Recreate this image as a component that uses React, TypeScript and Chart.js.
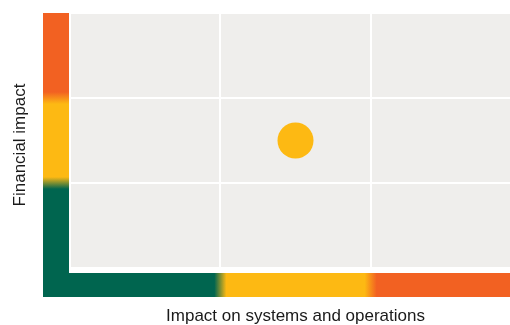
import React, { useEffect, useRef } from "react";
import { Chart, registerables } from "chart.js";

Chart.register(...registerables);

// Zone boundaries on both axes (low / medium / high)
const zoneEdges = [0, 1, 2, 3];
// Colour of each zone, from low to high
const zoneColors = ["#00654F", "#FDB913", "#F26122"];
const plotBackground = "#EFEEEC";

// Assessed risk position
const riskImpact = [1.5];
const riskFinancial = [1.5];
const riskColor = "#FDB913";

const xTitle = "Impact on systems and operations";
const yTitle = "Financial impact";

const FONT = "'Liberation Sans', Arial, Helvetica, sans-serif";
const TITLE_COLOR = "#1A1A1A";

// Fills the plot area and paints the graded colour bands beside the axes
const zoneBands = {
  id: "zoneBands",
  beforeDraw(chart: any) {
    const { ctx, chartArea, scales } = chart;
    const { left, right, top, bottom } = chartArea;
    const blend = 6;

    ctx.save();
    ctx.fillStyle = plotBackground;
    ctx.fillRect(left, top, right - left, bottom - top);

    // vertical band (financial impact)
    const vx0 = left - 27;
    const vx1 = left - 1;
    const vBottom = bottom + 29;
    const vGrad = ctx.createLinearGradient(0, vBottom, 0, top);
    const vLen = vBottom - top;
    vGrad.addColorStop(0, zoneColors[0]);
    for (let i = 1; i < zoneEdges.length - 1; i++) {
      const p = scales.y.getPixelForValue(zoneEdges[i]);
      const t = (vBottom - p) / vLen;
      vGrad.addColorStop(t - blend / vLen, zoneColors[i - 1]);
      vGrad.addColorStop(t + blend / vLen, zoneColors[i]);
    }
    vGrad.addColorStop(1, zoneColors[zoneColors.length - 1]);
    ctx.fillStyle = vGrad;
    ctx.fillRect(vx0, top, vx1 - vx0, vBottom - top);

    // horizontal band (impact on systems)
    const hy0 = bottom + 5;
    const hy1 = bottom + 29;
    const hGrad = ctx.createLinearGradient(vx0, 0, right, 0);
    const hLen = right - vx0;
    hGrad.addColorStop(0, zoneColors[0]);
    for (let i = 1; i < zoneEdges.length - 1; i++) {
      const p = scales.x.getPixelForValue(zoneEdges[i]);
      const t = (p - vx0) / hLen;
      hGrad.addColorStop(t - blend / hLen, zoneColors[i - 1]);
      hGrad.addColorStop(t + blend / hLen, zoneColors[i]);
    }
    hGrad.addColorStop(1, zoneColors[zoneColors.length - 1]);
    ctx.fillStyle = hGrad;
    ctx.fillRect(vx0, hy0, right - vx0, hy1 - hy0);
    ctx.restore();
  },
  // vertical axis title, centred on the plot plus its gap to the lower band
  afterDraw(chart: any) {
    const { ctx, chartArea } = chart;
    const cx = chartArea.left - 49.5;
    const cy = (chartArea.top + chartArea.bottom + 9) / 2;
    ctx.save();
    ctx.translate(cx, cy);
    ctx.rotate(-Math.PI / 2);
    ctx.font = `17px ${FONT}`;
    ctx.fillStyle = TITLE_COLOR;
    ctx.textAlign = "center";
    ctx.textBaseline = "middle";
    ctx.fillText(yTitle, 0, 0);
    ctx.restore();
  },
};

export default function App() {
  const canvasRef = useRef<HTMLCanvasElement | null>(null);

  useEffect(() => {
    document.body.style.margin = "0";
    const canvas = canvasRef.current;
    if (!canvas) return;
    const chart = new Chart(canvas, {
      type: "scatter",
      data: {
        datasets: [
          {
            data: riskImpact.map((x, i) => ({ x, y: riskFinancial[i] })),
            backgroundColor: riskColor,
            borderWidth: 0,
            pointRadius: 18,
            pointHoverRadius: 18,
          },
        ],
      },
      options: {
        animation: false,
        responsive: false,
        devicePixelRatio: 1,
        layout: { autoPadding: false, padding: { top: 13, left: 70, right: 0, bottom: 0 } },
        plugins: { legend: { display: false }, tooltip: { enabled: false } },
        scales: {
          x: {
            type: "linear",
            min: zoneEdges[0],
            max: zoneEdges[zoneEdges.length - 1],
            ticks: { display: false, stepSize: 1 },
            grid: { color: "#FFFFFF", lineWidth: 2, drawTicks: false },
            border: { display: false },
            title: {
              display: true,
              text: xTitle,
              color: TITLE_COLOR,
              font: { family: FONT, size: 17 },
              padding: { top: 38.1, bottom: -1.5 },
            },
          },
          y: {
            type: "linear",
            min: zoneEdges[0],
            max: zoneEdges[zoneEdges.length - 1],
            ticks: { display: false, stepSize: 1 },
            grid: { color: "#FFFFFF", lineWidth: 2, drawTicks: false },
            border: { display: false },
            title: { display: false },
          },
        },
      },
      plugins: [zoneBands],
    });
    return () => chart.destroy();
  }, []);

  return (
    <div style={{ width: 510, height: 325, overflow: "hidden" }}>
      <canvas ref={canvasRef} width={521} height={325} style={{ display: "block" }} />
    </div>
  );
}
